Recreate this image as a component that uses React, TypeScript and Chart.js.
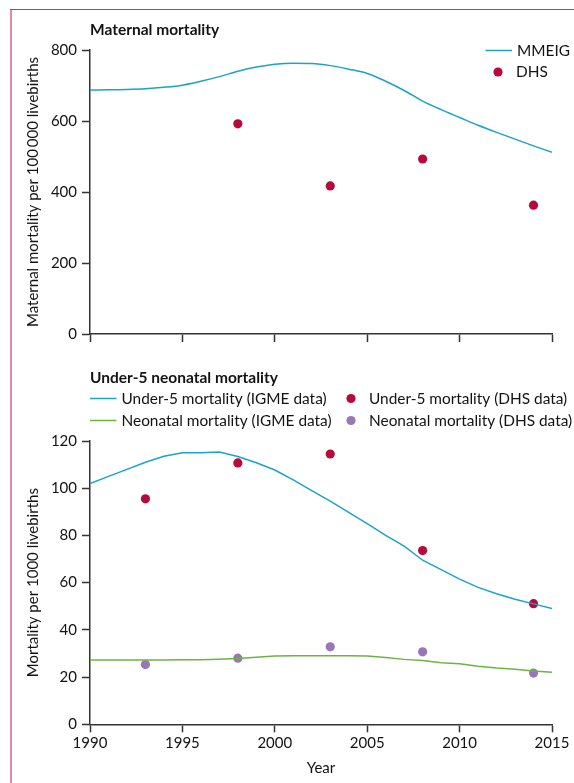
import { useEffect, useRef } from "react";
import { Chart, registerables } from "chart.js";

Chart.register(...registerables);

// ---------- data ----------
const years = [
  1990, 1991, 1992, 1993, 1994, 1995, 1996, 1997, 1998, 1999, 2000, 2001, 2002,
  2003, 2004, 2005, 2006, 2007, 2008, 2009, 2010, 2011, 2012, 2013, 2014, 2015,
];
const mmeigValues = [
  687, 688, 689, 691, 695, 701, 712, 725, 740, 752, 760, 763, 762, 756, 746,
  734, 712, 686, 656, 632, 610, 588, 568, 549, 530, 512,
];
const dhsMaternalYears = [1998, 2003, 2008, 2014];
const dhsMaternalValues = [592, 417, 493, 363];

const u5IgmeValues = [
  102, 105, 108, 111, 113.5, 115, 115, 115.3, 113.4, 110.8, 107.7, 103.5, 99,
  94.5, 89.8, 85, 80, 75.5, 69.5, 65.5, 61.5, 58, 55.3, 53, 51, 49,
];
const neoIgmeValues = [
  27.2, 27.2, 27.2, 27.2, 27.2, 27.3, 27.3, 27.6, 27.9, 28.4, 28.9, 29, 29, 29,
  29, 28.9, 28.3, 27.5, 27, 26.1, 25.6, 24.6, 23.8, 23.3, 22.6, 22,
];
const dhsChildYears = [1993, 1998, 2003, 2008, 2014];
const u5DhsValues = [95.5, 110.7, 114.5, 73.6, 51.1];
const neoDhsValues = [25.3, 28.0, 32.8, 30.7, 21.7];

const yearTicks = [1990, 1995, 2000, 2005, 2010, 2015];
const maternalTicks = [0, 200, 400, 600, 800];
const childTicks = [0, 20, 40, 60, 80, 100, 120];

// ---------- style ----------
const FONT = "Lato, 'Open Sans', sans-serif";
const TEXT = "#141213";
const AXIS = "#333333";
const CYAN = "#1ba3c9";
const GREEN = "#6db33f";
const CRIMSON = "#b8093c";
const PURPLE = "#9a76b6";

const pts = (xs: number[], ys: number[]) => xs.map((x, i) => ({ x, y: ys[i] }));

const legendPlugin = {
  id: "customLegend",
  afterDraw(chart: any, _args: any, opts: any) {
    const ctx = chart.ctx;
    const items = (opts && opts.items) || [];
    ctx.save();
    ctx.font = `15.4px ${FONT}`;
    ctx.textBaseline = "middle";
    ctx.textAlign = "left";
    for (const it of items) {
      const ds = chart.data.datasets[it.dataset];
      let textX;
      if (it.kind === "line") {
        ctx.strokeStyle = ds.borderColor;
        ctx.lineWidth = 1.5;
        ctx.beginPath();
        ctx.moveTo(it.x, it.y);
        ctx.lineTo(it.x + 26.5, it.y);
        ctx.stroke();
        textX = it.x + 31.5;
      } else {
        ctx.fillStyle = ds.backgroundColor;
        ctx.beginPath();
        ctx.arc(it.x, it.y, 4.6, 0, Math.PI * 2);
        ctx.fill();
        textX = it.x + 18;
      }
      ctx.fillStyle = TEXT;
      ctx.fillText(ds.label, textX, it.y + 0.5);
    }
    ctx.restore();
  },
};

function xScale(showLabels: boolean, height: number) {
  return {
    type: "linear",
    min: 1990,
    max: 2015,
    afterBuildTicks: (s: any) => {
      s.ticks = yearTicks.map((v) => ({ value: v }));
    },
    afterFit: (s: any) => {
      s.height = height;
    },
    grid: {
      drawOnChartArea: false,
      drawTicks: true,
      tickLength: 8,
      tickWidth: 1.5,
      tickColor: AXIS,
    },
    border: { display: true, color: AXIS, width: 1.5 },
    ticks: {
      display: showLabels,
      color: TEXT,
      font: { family: FONT, size: 15 },
      padding: 2,
      maxRotation: 0,
      autoSkip: false,
      callback: (v: any) => String(v),
    },
    title: {
      display: showLabels,
      text: "Year",
      color: TEXT,
      font: { family: FONT, size: 15 },
      padding: { top: 0, bottom: 5.5 },
    },
  };
}

function yScale(max: number, ticks: number[], title: string) {
  return {
    type: "linear",
    min: 0,
    max,
    afterBuildTicks: (s: any) => {
      s.ticks = ticks.map((v) => ({ value: v }));
    },
    afterFit: (s: any) => {
      s.width = 90;
    },
    grid: {
      drawOnChartArea: false,
      drawTicks: true,
      tickLength: 8,
      tickWidth: 1.5,
      tickColor: AXIS,
    },
    border: { display: true, color: AXIS, width: 1.5 },
    ticks: {
      color: TEXT,
      font: { family: FONT, size: 15 },
      padding: 5,
      callback: (v: any) => String(v),
    },
    title: {
      display: true,
      text: title,
      color: TEXT,
      font: { family: FONT, size: 15 },
      padding: { top: 24, bottom: 0 },
    },
  };
}

function TopChart() {
  const ref = useRef<HTMLCanvasElement>(null);
  useEffect(() => {
    const chart = new Chart(ref.current as any, {
      type: "line",
      data: {
        datasets: [
          {
            label: "MMEIG",
            data: pts(years, mmeigValues),
            borderColor: CYAN,
            backgroundColor: CYAN,
            borderWidth: 1.5,
            pointRadius: 0,
            tension: 0.4,
            cubicInterpolationMode: "monotone",
            fill: false,
          },
          {
            label: "DHS",
            data: pts(dhsMaternalYears, dhsMaternalValues),
            showLine: false,
            backgroundColor: CRIMSON,
            borderColor: CRIMSON,
            borderWidth: 0,
            pointRadius: 4.6,
          },
        ],
      } as any,
      options: {
        animation: false,
        responsive: true,
        maintainAspectRatio: false,
        layout: { padding: { left: 0, right: 22, top: 0, bottom: 0 } },
        scales: {
          x: xScale(false, 18),
          y: yScale(800, maternalTicks, "Maternal mortality per 100\u2009000 livebirths"),
        } as any,
        plugins: {
          legend: { display: false },
          tooltip: { enabled: false },
          title: {
            display: true,
            text: "Maternal mortality",
            align: "start",
            fullSize: false,
            color: TEXT,
            font: { family: FONT, size: 15.5, weight: "bold" },
            padding: { top: 20.7, bottom: 10.7 },
          },
          customLegend: {
            items: [
              { dataset: 0, kind: "line", x: 485.5, y: 50.5 },
              { dataset: 1, kind: "dot", x: 498, y: 72 },
            ],
          },
        } as any,
      },
      plugins: [legendPlugin as any],
    });
    return () => chart.destroy();
  }, []);
  return (
    <div style={{ position: "absolute", left: 0, top: 0, width: 574, height: 352 }}>
      <canvas ref={ref} />
    </div>
  );
}

function BottomChart() {
  const ref = useRef<HTMLCanvasElement>(null);
  useEffect(() => {
    const chart = new Chart(ref.current as any, {
      type: "line",
      data: {
        datasets: [
          {
            label: "Under-5 mortality (IGME data)",
            data: pts(years, u5IgmeValues),
            borderColor: CYAN,
            backgroundColor: CYAN,
            borderWidth: 1.5,
            pointRadius: 0,
            tension: 0,
            fill: false,
          },
          {
            label: "Neonatal mortality (IGME data)",
            data: pts(years, neoIgmeValues),
            borderColor: GREEN,
            backgroundColor: GREEN,
            borderWidth: 1.5,
            pointRadius: 0,
            tension: 0,
            fill: false,
          },
          {
            label: "Under-5 mortality (DHS data)",
            data: pts(dhsChildYears, u5DhsValues),
            showLine: false,
            backgroundColor: CRIMSON,
            borderColor: CRIMSON,
            borderWidth: 0,
            pointRadius: 4.6,
          },
          {
            label: "Neonatal mortality (DHS data)",
            data: pts(dhsChildYears, neoDhsValues),
            showLine: false,
            backgroundColor: PURPLE,
            borderColor: PURPLE,
            borderWidth: 0,
            pointRadius: 4.6,
          },
        ],
      } as any,
      options: {
        animation: false,
        responsive: true,
        maintainAspectRatio: false,
        layout: { padding: { left: 0, right: 22, top: 0, bottom: 0 } },
        scales: {
          x: xScale(true, 58.7),
          y: yScale(120, childTicks, "Mortality per 1000 livebirths"),
        } as any,
        plugins: {
          legend: { display: false },
          tooltip: { enabled: false },
          title: {
            display: true,
            text: "Under-5 neonatal mortality",
            align: "start",
            fullSize: false,
            color: TEXT,
            font: { family: FONT, size: 15.5, weight: "bold" },
            padding: { top: 16.7, bottom: 53.7 },
          },
          customLegend: {
            items: [
              { dataset: 0, kind: "line", x: 90, y: 46.5 },
              { dataset: 1, kind: "line", x: 90, y: 68.5 },
              { dataset: 2, kind: "dot", x: 351, y: 46.5 },
              { dataset: 3, kind: "dot", x: 351, y: 68.5 },
            ],
          },
        } as any,
      },
      plugins: [legendPlugin as any],
    });
    return () => chart.destroy();
  }, []);
  return (
    <div style={{ position: "absolute", left: 0, top: 352, width: 574, height: 431 }}>
      <canvas ref={ref} />
    </div>
  );
}

export default function App() {
  return (
    <div
      style={{
        position: "absolute",
        left: 0,
        top: 0,
        width: 574,
        height: 783,
        background: "#ffffff",
        overflow: "hidden",
      }}
    >
      <div style={{ position: "absolute", left: 10, top: 9, width: 1.6, height: 774, background: "#e58aa5" }} />
      <div style={{ position: "absolute", left: 10, top: 8.6, width: 564, height: 1.4, background: "#c43862" }} />
      <TopChart />
      <BottomChart />
    </div>
  );
}
